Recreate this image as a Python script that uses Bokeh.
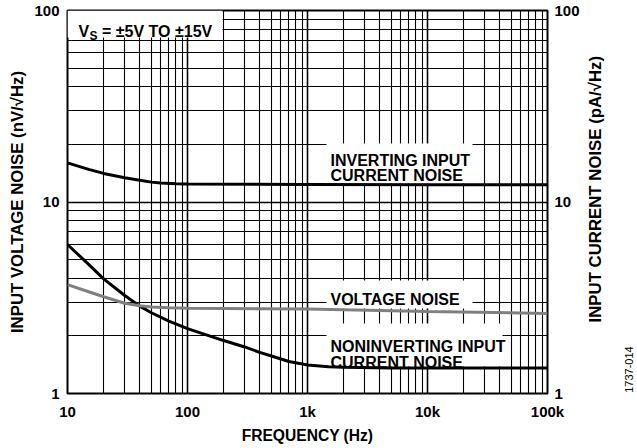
import math
from bokeh.plotting import figure
from bokeh.layouts import row
from bokeh.models import FixedTicker, LogAxis, Label, Range1d
from bokeh.core.properties import value
from bokeh.embed import file_html
from bokeh.resources import INLINE

# ---------------- data ----------------
freq_ticks = [10, 100, 1000, 10000, 100000]
freq_tick_labels = ["10", "100", "1k", "10k", "100k"]
noise_ticks = [1, 10, 100]
noise_tick_labels = ["1", "10", "100"]

inv_freq = [10, 15, 20, 30, 40, 50, 60, 80, 100, 1000, 10000, 100000]
inv_noise = [16.0, 14.8, 14.1, 13.4, 13.0, 12.7, 12.55, 12.45, 12.4, 12.35, 12.3, 12.3]

volt_freq = [10, 15, 20, 30, 40, 50, 70, 100, 1000, 10000, 100000]
volt_noise = [3.70, 3.40, 3.20, 2.96, 2.87, 2.83, 2.80, 2.79, 2.76, 2.68, 2.62]

nonin_freq = [10, 15, 20, 30, 40, 50, 70, 100, 200, 300, 400, 500, 700, 1000, 1500, 2000, 5000, 100000]
nonin_noise = [6.0, 4.72, 3.97, 3.25, 2.86, 2.64, 2.39, 2.18, 1.89, 1.75, 1.64, 1.57, 1.47, 1.41, 1.38, 1.37, 1.36, 1.36]

minor_freq = [k * 10 ** d for d in range(1, 5) for k in range(2, 10)]
minor_noise = [k * 10 ** d for d in range(0, 2) for k in range(2, 10)]

x_title = "FREQUENCY (Hz)"
y_title = "INPUT VOLTAGE NOISE (nV/√Hz)"
y2_title = "INPUT CURRENT NOISE (pA/√Hz)"
fig_id = "1737-014"

FONT = "Liberation Sans"
W, H = 637, 448
SIDE_W = 55
FL, FT, FR, FB = 67, 10, 547, 393   # frame edges in page pixels

def dx(px):
    return 10 ** (1 + 4 * (px - FL) / (FR - FL))
def dy(py):
    return 10 ** (2 - 2 * (py - FT) / (FB - FT))

p = figure(width=W - SIDE_W, height=H, x_axis_type="log", y_axis_type="log",
           x_range=Range1d(10, 100000), y_range=Range1d(1, 100),
           output_backend="svg", toolbar_location=None,
           min_border_left=FL, min_border_right=W - SIDE_W - FR,
           min_border_top=FT, min_border_bottom=H - FB)
p.outline_line_color = "black"
p.outline_line_width = 2
p.background_fill_color = "white"

for g, major, minor in ((p.xgrid[0], freq_ticks, minor_freq), (p.ygrid[0], noise_ticks, minor_noise)):
    g.ticker = FixedTicker(ticks=major, minor_ticks=minor)
    g.grid_line_color = "black"
    g.grid_line_width = 1.6
    g.minor_grid_line_color = "black"
    g.minor_grid_line_width = 1.1

def style_axis(ax):
    ax.axis_line_color = None
    ax.major_tick_line_color = None
    ax.minor_tick_line_color = None
    ax.major_tick_out = 0
    ax.minor_tick_out = 0
    ax.major_tick_in = 0
    ax.minor_tick_in = 0
    ax.major_label_text_font = FONT
    ax.major_label_text_font_style = "bold"
    ax.major_label_text_font_size = "15px"
    ax.major_label_text_color = "black"
    ax.axis_label_text_font = FONT
    ax.axis_label_text_font_style = "bold"
    ax.axis_label_text_color = "black"

xa = p.xaxis[0]
xa.ticker = FixedTicker(ticks=freq_ticks)
xa.major_label_overrides = dict(zip(freq_ticks, freq_tick_labels))
xa.axis_label = x_title
style_axis(xa)
xa.axis_label_text_font_size = "15.6px"
xa.major_label_standoff = 9
xa.axis_label_standoff = 4

ya = p.yaxis[0]
ya.ticker = FixedTicker(ticks=noise_ticks)
ya.major_label_overrides = dict(zip(noise_ticks, noise_tick_labels))
ya.axis_label = y_title
style_axis(ya)
ya.axis_label_text_font_size = "16.8px"
ya.major_label_standoff = 8
ya.axis_label_standoff = 4

ra = LogAxis(ticker=FixedTicker(ticks=noise_ticks),
             major_label_overrides=dict(zip(noise_ticks, noise_tick_labels)))
style_axis(ra)
ra.major_label_standoff = 7
p.add_layout(ra, "right")

# white label backgrounds (cover grid lines)
boxes = [  # left, right, top, bottom in page px
    (67, 222, 10, 37),
    (326, 472, 143, 183),
    (326, 472, 280, 308),
    (326, 502, 323, 366),
]
p.quad(left=[dx(b[0]) for b in boxes], right=[dx(b[1]) for b in boxes],
       top=[dy(b[2]) for b in boxes], bottom=[dy(b[3]) for b in boxes],
       fill_color="white", line_color=None)

# curves
p.line(inv_freq, inv_noise, line_color="black", line_width=3)
p.line(nonin_freq, nonin_noise, line_color="black", line_width=3)
p.line(volt_freq, volt_noise, line_color="#808080", line_width=3)

def lab(text, px, py, size="16px", style="bold"):
    p.add_layout(Label(x=dx(px), y=dy(py), text=text, text_font=FONT,
                       text_font_style=style, text_font_size=size, text_color="black",
                       text_align="left", text_baseline="alphabetic"))

lab("V", 78, 30.7)
lab("S", 89, 35, size="12px")
lab("= ±5V TO ±15V", 101.5, 30.7)
lab("INVERTING INPUT", 330, 160)
lab("CURRENT NOISE", 330, 175)
lab("VOLTAGE NOISE", 330, 299)
lab("NONINVERTING INPUT", 330, 346)
lab("CURRENT NOISE", 330, 362)

# side strip: right-hand title and figure id, reading bottom to top
s = figure(width=SIDE_W, height=H, x_range=Range1d(0, SIDE_W), y_range=Range1d(0, H),
           output_backend="svg", toolbar_location=None,
           x_axis_location=None, y_axis_location=None,
           min_border=0, min_border_left=0, min_border_right=0, min_border_top=0, min_border_bottom=0)
s.outline_line_color = None
s.grid.visible = False
s.text(x=[595 - (W - SIDE_W)], y=[H - 209], text=[y2_title], angle=math.pi / 2,
       text_font=value(FONT), text_font_style="bold", text_font_size="16.8px", text_color="black",
       text_align="center", text_baseline="alphabetic")
s.text(x=[628 - (W - SIDE_W)], y=[H - 420], text=[fig_id], angle=math.pi / 2,
       text_font=value(FONT), text_font_style="normal", text_font_size="11px", text_color="black",
       text_align="center", text_baseline="alphabetic")

layout = row(p, s, spacing=0)
open("out.html", "w").write(file_html(layout, INLINE))
